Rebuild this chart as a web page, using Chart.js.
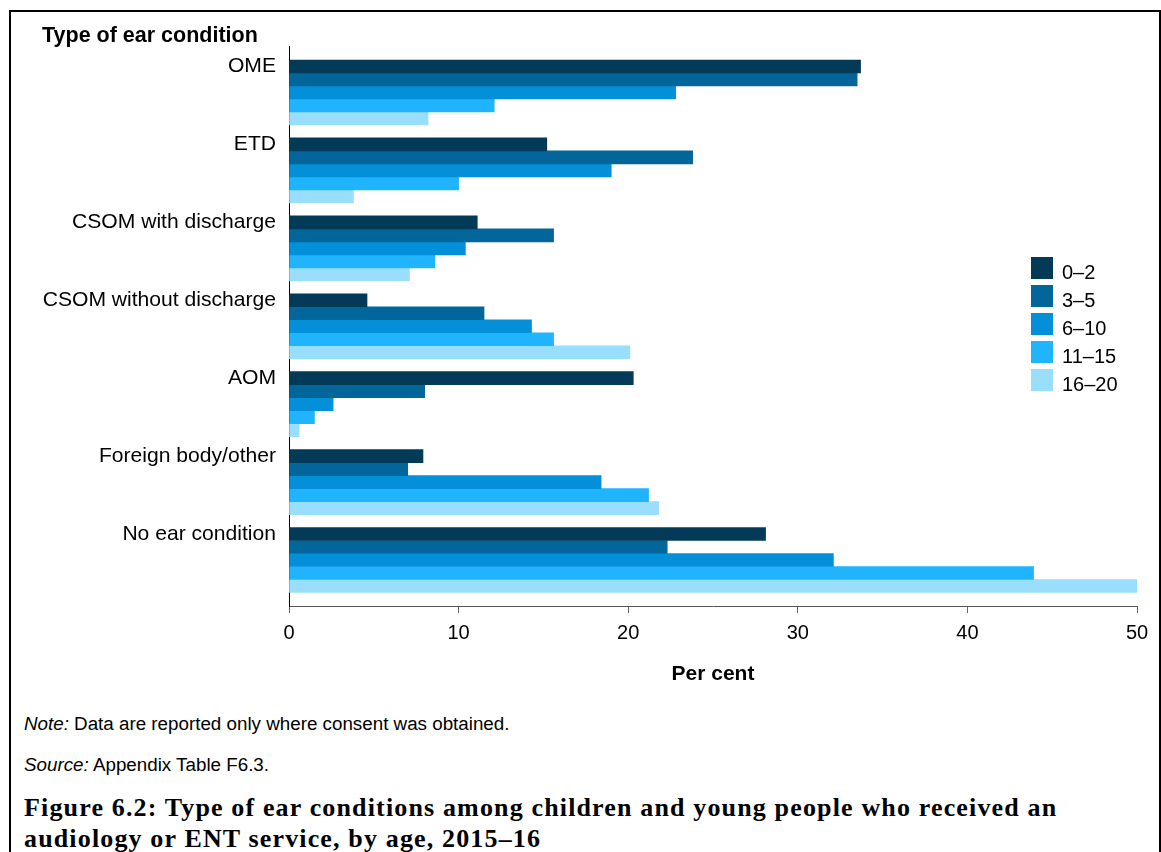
<!DOCTYPE html>
<html>
<head>
<meta charset="utf-8">
<script src="https://cdn.jsdelivr.net/npm/chart.js@4.4.0/dist/chart.umd.min.js"></script>
<style>
    body { margin: 0; width: 1161px; height: 852px; overflow: hidden; background: #fff; position: relative; font-family: "Liberation Sans", Arial, sans-serif; }
    #frame { position: absolute; left: 9px; top: 10px; width: 1148px; height: 900px; border: 2px solid #000; }
    #chart { position: absolute; left: 0; top: 0; }
    #legend { position: absolute; left: 1031px; top: 257px; }
    .item { height: 28px; display: flex; align-items: flex-start; font-size: 20px; line-height: 22px; color: #000; }
    .item span { position: relative; top: 4px; }
    .swatch { width: 22px; height: 22px; margin-right: 9px; }
    .note { position: absolute; left: 24px; font-size: 18.8px; line-height: 22px; color: #000; }
    #caption { position: absolute; left: 24px; top: 792px; font-family: "Liberation Serif", "Times New Roman", serif; font-weight: bold; font-size: 26px; line-height: 31px; letter-spacing: 1.15px; color: #000; }
</style>
</head>
<body>
<div id="frame"></div>
<canvas id="chart" width="1161" height="700"></canvas>
<div id="legend"></div>
<div class="note" style="top: 713px"><i>Note:</i> Data are reported only where consent was obtained.</div>
<div class="note" style="top: 754px"><i>Source:</i> Appendix Table F6.3.</div>
<div id="caption">Figure 6.2: Type of ear conditions among children and young people who received an<br>audiology or ENT service, by age, 2015–16</div>
<script>
const conditions = ["OME", "ETD", "CSOM with discharge", "CSOM without discharge", "AOM", "Foreign body/other", "No ear condition"];
const ageGroups = ["0–2", "3–5", "6–10", "11–15", "16–20"];
const colours = ["#023a58", "#02669b", "#048fd9", "#20b3fe", "#9adefe"];

// per cent of each age group, in the order of conditions
const age0to2 = [33.7, 15.2, 11.1, 4.6, 20.3, 7.9, 28.1];
const age3to5 = [33.5, 23.8, 15.6, 11.5, 8.0, 7.0, 22.3];
const age6to10 = [22.8, 19.0, 10.4, 14.3, 2.6, 18.4, 32.1];
const age11to15 = [12.1, 10.0, 8.6, 15.6, 1.5, 21.2, 43.9];
const age16to20 = [8.2, 3.8, 7.1, 20.1, 0.6, 21.8, 50.0];

const xTicks = [0, 10, 20, 30, 40, 50];

const series = [age0to2, age3to5, age6to10, age11to15, age16to20];

const datasets = series.map((values, i) => ({
    label: ageGroups[i],
    data: values.map((v, j) => ({ x: v, y: j })),
    backgroundColor: colours[i],
    borderWidth: 0,
    barThickness: 13
}));

// legend as plain html
let html = "";
ageGroups.forEach((g, i) => {
    html += `<div class="item"><div class="swatch" style="background:${colours[i]}"></div><span>${g}</span></div>`;
});
document.getElementById("legend").innerHTML = html;

const chart = new Chart(document.getElementById("chart"), {
    type: "bar",
    data: { datasets: datasets },
    options: {
        indexAxis: "y",
        responsive: false,
        animation: false,
        devicePixelRatio: 1,
        layout: { padding: { left: 42, right: 24, top: 0, bottom: 0 } },
        plugins: {
            legend: { display: false },
            tooltip: { enabled: false },
            title: {
                display: true,
                text: "Type of ear condition",
                align: "start",
                color: "#000",
                font: { family: "Liberation Sans", size: 21.5, weight: "bold", lineHeight: 1 },
                padding: { top: 25, bottom: 0 }
            }
        },
        scales: {
            x: {
                type: "linear",
                position: "bottom",
                min: 0,
                max: 50,
                afterBuildTicks: (axis) => { axis.ticks = xTicks.map(v => ({ value: v })); },
                afterFit: (axis) => { axis.height = 94; },
                grid: { display: true, drawOnChartArea: false, drawTicks: true, tickLength: 7, color: "#666" },
                border: { display: true, color: "#555", width: 1 },
                ticks: { color: "#000", padding: 8, font: { family: "Liberation Sans", size: 20 } },
                title: {
                    display: true,
                    text: "Per cent",
                    color: "#000",
                    font: { family: "Liberation Sans", size: 21, weight: "bold" },
                    padding: { top: 0, bottom: 13 }
                }
            },
            y: {
                type: "linear",
                bounds: "data",
                offset: false,
                reverse: true,
                min: -0.59,
                max: 6.59,
                afterBuildTicks: (axis) => { axis.ticks = conditions.map((c, i) => ({ value: i })); },
                afterFit: (axis) => { axis.width = 247; },
                grid: { display: false, drawTicks: false, offset: false },
                border: { display: true, color: "#000", width: 1 },
                ticks: {
                    autoSkip: false,
                    color: "#000",
                    padding: 13,
                    labelOffset: -26,
                    font: { family: "Liberation Sans", size: 21.1 },
                    callback: (value) => conditions[value]
                }
            }
        }
    }
});
</script>
</body>
</html>
